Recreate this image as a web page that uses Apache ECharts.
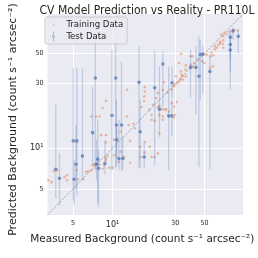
<!DOCTYPE html>
<html><head><meta charset="utf-8">
<script src="https://cdn.jsdelivr.net/npm/echarts@6/dist/echarts.min.js"></script>
<style>html,body{margin:0;padding:0;background:#fff}#c{width:258px;height:258px}</style>
</head><body><div id="c"></div>
<script>
const AX_MIN = 3.2, AX_MAX = 98;
const tickValues = [5, 10, 30, 50];
const trainX = [3.26,3.44,3.58,3.79,4.31,4.5,4.5,5.48,5.98,5.33,6.3,6.5,6.89,7.08,7.3,7.5,7.94,8.4,8.65,8.9,8.9,9.15,9.42,9.97,8.18,8.9,8.9,6.89,7.5,10.26,11.17,11.5,13.25,13.6,14.4,16.2,16.3,19.2,12.9,11.5,10.26,13.6,17.6,17.6,12.2,19.8,20.9,22.1,22.7,19.8,20.9,24.1,24.1,26.7,29.3,12.9,17.4,17.4,16.6,19.8,22.1,22.7,23.8,25.5,24.1,24.5,26.2,28.2,29.4,22.7,26.7,29.8,8.9,8.4,7.94,17.6,17.6,21.4,20.3,19.0,24.8,28.2,22.1,29.4,14.8,
30.3,33.1,33.5,36.0,34.1,32.2,31.0,29.5,39.3,40.4,39.3,36.0,41.5,47.9,49.9,49.9,52.1,55.7,58.4,55.1,57.7,60.0,63.6,61.8,65.6,69.3,68.5,73.4,69.3,76.7,82.2,84.0,89.5,69.3,65.6,30.8,33.2,70.9,66.9,56.5,44.5,40.8,35.8,33.9,32.9,32.0,59.8];
const trainY = [5.78,5.6,6.74,6.86,6.1,5.78,6.3,5.88,5.88,6.86,6.66,6.74,6.86,7.47,7.56,7.69,7.56,7.06,7.47,8.14,8.46,8.76,7.14,7.14,12.5,12.5,11.0,17.1,17.1,8.87,7.9,9.39,14.8,7.78,15.1,10.2,8.6,10.2,17.1,13.2,11.5,11.3,11.1,9.3,8.6,8.6,8.6,9.13,12.8,16.2,15.9,17.1,16.2,17.1,16.8,27.0,24.1,22.3,20.1,17.6,20.1,20.5,19.4,19.4,27.0,30.6,25.7,27.0,28.6,17.6,18.6,17.6,22.3,19.8,17.1,28.2,26.2,23.4,20.9,19.2,19.2,21.5,25.5,20.2,14.0,
33.9,36.9,34.9,33.9,32.0,31.1,30.2,29.4,47.7,47.7,41.4,40.9,42.6,43.9,42.6,49.1,49.1,47.7,48.5,39.1,40.2,56.7,57.7,55.1,59.3,55.1,59.0,69.3,67.2,72.4,74.5,74.5,73.9,62.5,61.0,21.9,49.7,71.2,69.2,50.6,45.1,39.7,38.0,33.9,32.5,42.6,53.5];
const testX  = [3.70,3.95,5.03,5.35,5.28,5.10,5.90,7.05,7.40,7.71,7.55,7.81,8.75,9.90,10.57,10.70,11.70,10.76,11.17,11.97,15.9,16.2,17.4,20.9,22.7,24.1,26.7,28.2,28.3,39.1,43.0,45.3,46.4,48.4,54.9,78.5,78.5,78.5,82.2,90.2];
const testY  = [6.97,5.98,11.3,11.3,7.6,5.88,8.72,13.0,33.0,8.28,7.6,7.1,7.69,17.4,33.0,14.8,14.8,11.5,8.38,8.38,30.6,13.2,8.6,27.9,19.4,41.8,17.3,17.3,30.4,39.5,39.5,34.0,49.1,49.5,36.9,66.1,58.3,53.1,73.4,67.0];
const testLo = [4.25,3.77,4.10,4.47,4.87,3.77,5.78,7.47,6.86,3.97,5.78,3.64,6.41,6.86,7.1,7.35,6.86,8.5,6.86,6.86,7.1,7.1,7.1,7.47,12.1,20.2,6.86,12.3,23.5,23.5,17.6,7.23,22.8,25.0,6.98,45.1,36.7,27.0,63.6,50.0];
const testHi = [20.9,9.18,39.3,39.3,14.8,8.14,38.7,28.4,68.1,16.2,11.5,9.66,11.5,53.5,60.3,22.8,43.6,14.0,16.2,12.0,56.3,22.8,11.1,51.9,40.2,51.7,40.2,22.8,40.2,53.5,56.3,66.9,63.6,57.3,49.1,75.4,70.4,63.6,78.0,75.4];

const BLUE = '#4C72B0', ORANGE = '#DD8452', TXT = '#262626';
const chart = echarts.init(document.getElementById('c'), null, {renderer: 'canvas'});
const trainData = trainX.map((x, i) => [x, trainY[i]]);
const testData = testX.map((x, i) => [x, testY[i]]);
const errData = testX.map((x, i) => [x, testLo[i], testHi[i]]);
const axisCommon = (isX) => ({
  type: 'log', logBase: 10, min: AX_MIN, max: AX_MAX,
  axisLine: {show: false}, axisTick: {show: false, customValues: tickValues},
  splitLine: {show: true, lineStyle: {color: '#ffffff', width: 1}},
  axisLabel: {
    customValues: tickValues, margin: isX ? 5 : 4, color: TXT,
    formatter: v => (Math.abs(v - 10) < 1e-6 ? '{big|10¹}' : '{sm|' + Math.round(v) + '}'),
    rich: {big: {fontSize: 9, fontFamily: 'DejaVu Sans Condensed', color: TXT},
           sm: {fontSize: 7, fontFamily: 'DejaVu Sans Condensed', color: TXT}}
  }
});
chart.setOption({
  animation: false,
  title: {text: 'CV Model Prediction vs Reality - PR110L', left: 142, top: 0, textAlign: 'center',
    textStyle: {fontSize: 12, fontWeight: 'normal', color: TXT, fontFamily: 'DejaVu Sans Condensed'}},
  grid: {left: 42, right: 15, top: 14, bottom: 43, show: true, backgroundColor: '#EAEAF2', borderWidth: 0},
  legend: {
    left: 45, top: 17, orient: 'vertical', itemGap: 1, itemWidth: 16, itemHeight: 11,
    padding: [2, 4, 2, 3], backgroundColor: 'rgba(234,234,242,0.8)', borderColor: '#cccccc',
    borderWidth: 1, borderRadius: 2,
    textStyle: {fontSize: 9.5, color: TXT, fontFamily: 'DejaVu Sans Condensed'},
    data: [{name: 'Training Data', icon: 'path://M0,0h0.01v0.01z M20,20h0.01v0.01z M10,8.6a1.4,1.4 0 1,0 0.001,0z'},
           {name: 'Test Data', icon: 'path://M0,0h0.01v0.01z M20,20h0.01v0.01z M9.5,1.5h1v17h-1z M10,7.8a2.2,2.2 0 1,0 0.001,0z'}]
  },
  xAxis: Object.assign(axisCommon(true), {name: 'Measured Background (count s⁻¹ arcsec⁻²)',
    nameLocation: 'middle', nameGap: 16,
    nameTextStyle: {fontSize: 10.5, color: TXT, fontFamily: 'DejaVu Sans', padding: [0, 6, 0, 0]}}),
  yAxis: Object.assign(axisCommon(false), {name: 'Predicted Background (count s⁻¹ arcsec⁻²)',
    nameLocation: 'middle', nameGap: 25, nameRotate: 90,
    nameTextStyle: {fontSize: 11, color: TXT, fontFamily: 'DejaVu Sans', padding: [0, 10, 0, 0]}}),
  series: [
    {type: 'line', data: [[AX_MIN, AX_MIN], [AX_MAX, AX_MAX]], symbol: 'none', silent: true,
      lineStyle: {color: 'rgba(90,90,90,0.5)', width: 1, type: [2, 1.5]}, z: 1},
    {name: 'Training Data', type: 'scatter', data: trainData, symbolSize: 2.6,
      itemStyle: {color: ORANGE, opacity: 0.5}, z: 2},
    {name: 'Test Error', type: 'custom', data: errData, z: 3, silent: true,
      renderItem: (params, api) => {
        const p1 = api.coord([api.value(0), api.value(1)]);
        const p2 = api.coord([api.value(0), api.value(2)]);
        return {type: 'line', shape: {x1: p1[0], y1: p1[1], x2: p2[0], y2: p2[1]},
          style: {stroke: BLUE, lineWidth: 1.3, opacity: 0.27}};
      }},
    {name: 'Test Data', type: 'scatter', data: testData, symbolSize: 3.6,
      itemStyle: {color: BLUE, opacity: 0.7}, z: 4}
  ]
});
</script></body></html>
